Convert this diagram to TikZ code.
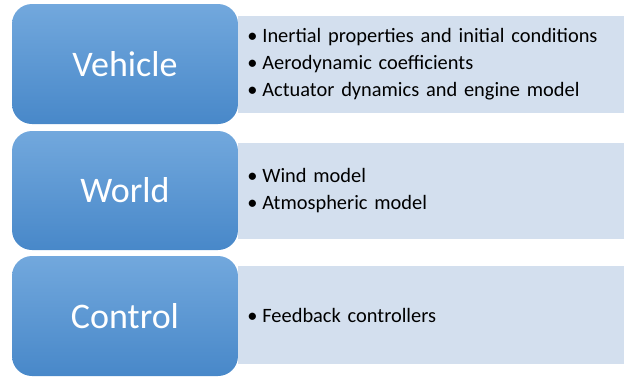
\documentclass[tikz,border=0pt]{standalone}
\usepackage{fontspec}
\setmainfont{Carlito}
\usepackage{tikz}
\usetikzlibrary{positioning}
\definecolor{boxtop}{HTML}{72A8DD}
\definecolor{boxmid}{HTML}{5A9BD9}
\definecolor{boxbot}{HTML}{4888C9}
\definecolor{infofill}{HTML}{D3DFEE}
\newcommand{\itm}[1]{\makebox[15pt][l]{\textbullet}#1}
\begin{document}
\begin{tikzpicture}[
   x = 1pt, y = -1pt,
block/.style = {rounded corners=20pt, draw=none,
                top color=boxtop, middle color=boxmid, bottom color=boxbot,
                minimum width=226pt, text=white,
                font=\fontsize{36}{42}\selectfont},% blue boxes at the left
 info/.style = {draw=none, fill=infofill, inner xsep=9pt, inner ysep=0pt,
                text width=368pt, align=left,
                font=\fontsize{20.4}{27}\selectfont},% lists at the right
]
\useasboundingbox (0,0) rectangle (625,376);
% blocks
\node[block, minimum height=120pt] (veh) at (125,64)    {Vehicle};
\node[block, minimum height=119pt] (wld) at (125,190.5) {World};
\node[block, minimum height=120pt] (ctl) at (125,316)   {Control};
% lists
\node[info, minimum height=97pt, right=0pt of veh] (vehinfo)
     {\itm{Inertial properties and initial conditions}\\
      \itm{Aerodynamic coefficients}\\
      \itm{Actuator dynamics and engine model}};
\node[info, minimum height=96pt, right=0pt of wld] (wldinfo)
     {\itm{Wind model}\\
      \itm{Atmospheric model}};
\node[info, minimum height=98pt, right=0pt of ctl, yshift=1pt] (ctlinfo)
     {\itm{Feedback controllers}};
\end{tikzpicture}
\end{document}
